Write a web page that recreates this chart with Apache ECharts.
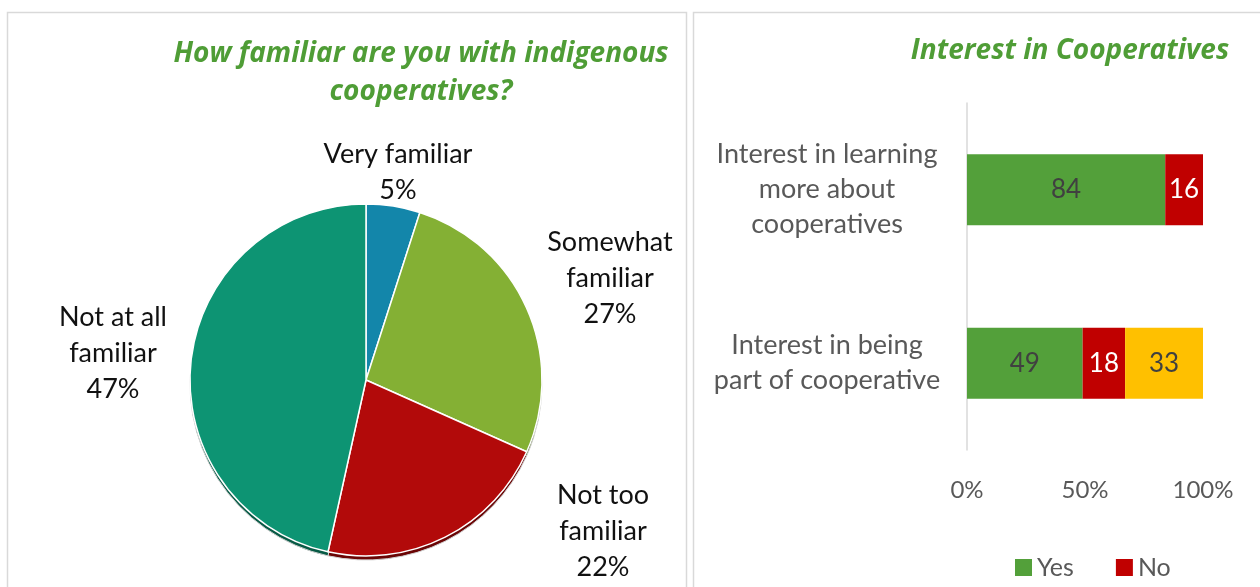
<!DOCTYPE html>
<html>
<head>
<meta charset="utf-8">
<script src="https://cdn.jsdelivr.net/npm/echarts@6/dist/echarts.min.js"></script>
<style>
  html, body { margin: 0; padding: 0; background: #fff; }
  #chart { width: 1260px; height: 587px; }
</style>
</head>
<body>
<div id="chart"></div>
<script>
// Familiarity survey (pie)
const familiarityLabels = ['Very familiar', 'Somewhat\nfamiliar', 'Not too\nfamiliar', 'Not at all\nfamiliar'];
const familiarityShares = [5, 27, 22, 47];

// Interest survey (stacked bars, percent)
const interestCategories = ['Interest in learning\nmore about\ncooperatives', 'Interest in being\npart of cooperative'];
const yesValues = [84, 49];
const noValues = [16, 18];
const unsureValues = [null, 33];
const percentTicks = [0, 50, 100];

const FONT = 'Lato, "Open Sans", sans-serif';
const TITLE_FONT = '"Open Sans", Lato, sans-serif';
const GREEN_TITLE = '#4f9d36';

const sliceColors = ['#1386aa', '#84b034', '#b20a0a', '#0d9473'];
const sliceShade = ['#0b4f63', '#4c661d', '#6b0505', '#075a45'];

// pie geometry
const PIE_CX = 366, PIE_CY = 380, PIE_R = 176;
// label anchors around the pie (offset from pie centre)
const labelOffsets = [[32, -208], [244, -102], [237, 151], [-253, -27]];

const chart = echarts.init(document.getElementById('chart'), null, { renderer: 'canvas' });

const option = {
  animation: false,
  textStyle: { fontFamily: FONT },
  graphic: [
    { type: 'rect', shape: { x: 7.5, y: 12.5, width: 679, height: 600 }, style: { fill: 'none', stroke: '#d9d9d9', lineWidth: 1.5 }, z: -10 },
    { type: 'rect', shape: { x: 693.5, y: 12.5, width: 600, height: 600 }, style: { fill: 'none', stroke: '#d9d9d9', lineWidth: 1.5 }, z: -10 }
  ],
  title: [
    {
      text: 'How familiar are you with indigenous\ncooperatives?',
      left: 416, top: 30, textAlign: 'center',
      textStyle: { fontFamily: TITLE_FONT, fontSize: 28, fontWeight: 'bold', fontStyle: 'italic', color: GREEN_TITLE, lineHeight: 38 }
    },
    {
      text: 'Interest in Cooperatives',
      left: 1065, top: 32, textAlign: 'center',
      textStyle: { fontFamily: TITLE_FONT, fontSize: 28, fontWeight: 'bold', fontStyle: 'italic', color: GREEN_TITLE }
    }
  ],
  legend: {
    data: ['Yes', 'No'],
    left: 1010, top: 550,
    icon: 'rect', itemWidth: 17, itemHeight: 17, itemGap: 42,
    textStyle: { fontFamily: FONT, fontSize: 25, color: '#595959' }
  },
  grid: { left: 967, right: 57, top: 103, bottom: 137 },
  xAxis: {
    type: 'value', min: 0, max: 100, interval: 50,
    axisLine: { show: false }, axisTick: { show: false }, splitLine: { show: false },
    axisLabel: {
      margin: 28, fontSize: 24, color: '#595959', fontFamily: FONT,
      formatter: v => percentTicks.includes(v) ? v + '%' : ''
    }
  },
  yAxis: {
    type: 'category', inverse: true, data: interestCategories,
    axisLine: { lineStyle: { color: '#d9d9d9', width: 1.5 } },
    axisTick: { show: false },
    axisLabel: { margin: 140, align: 'center', fontSize: 27, lineHeight: 35, color: '#595959', fontFamily: FONT }
  },
  series: [
    // darker copy under the pie forms its lower rim
    {
      type: 'pie', silent: true, z: 1,
      center: [PIE_CX, PIE_CY + 4], radius: PIE_R,
      startAngle: 90, clockwise: true,
      label: { show: false }, labelLine: { show: false },
      itemStyle: { color: p => sliceShade[p.dataIndex], borderColor: '#d0d0d0', borderWidth: 1 },
      data: familiarityShares.map((v, i) => ({ name: familiarityLabels[i], value: v }))
    },
    {
      type: 'pie', z: 2,
      center: [PIE_CX, PIE_CY], radius: PIE_R,
      startAngle: 90, clockwise: true, avoidLabelOverlap: false,
      itemStyle: { color: p => sliceColors[p.dataIndex], borderColor: '#ffffff', borderWidth: 1.5 },
      label: {
        show: true, position: 'outside',
        formatter: p => p.name + '\n' + p.value + '%',
        fontFamily: FONT, fontSize: 27, lineHeight: 36, color: '#111111', align: 'center'
      },
      labelLine: { show: false },
      labelLayout: p => ({
        x: PIE_CX + labelOffsets[p.dataIndex][0],
        y: PIE_CY + labelOffsets[p.dataIndex][1],
        align: 'center', verticalAlign: 'middle'
      }),
      data: familiarityShares.map((v, i) => ({ name: familiarityLabels[i], value: v }))
    },
    {
      name: 'Yes', type: 'bar', stack: 'interest', barWidth: 71,
      itemStyle: { color: '#53a03a' },
      label: { show: true, position: 'inside', fontSize: 26, color: '#404040', fontFamily: FONT },
      data: yesValues
    },
    {
      name: 'No', type: 'bar', stack: 'interest', barWidth: 71,
      itemStyle: { color: '#c00000' },
      label: { show: true, position: 'inside', fontSize: 26, color: '#ffffff', fontFamily: FONT },
      data: noValues
    },
    {
      name: 'Unsure', type: 'bar', stack: 'interest', barWidth: 71,
      itemStyle: { color: '#ffc000' },
      label: { show: true, position: 'inside', fontSize: 26, color: '#404040', fontFamily: FONT },
      data: unsureValues
    }
  ]
};

chart.setOption(option);
</script>
</body>
</html>
